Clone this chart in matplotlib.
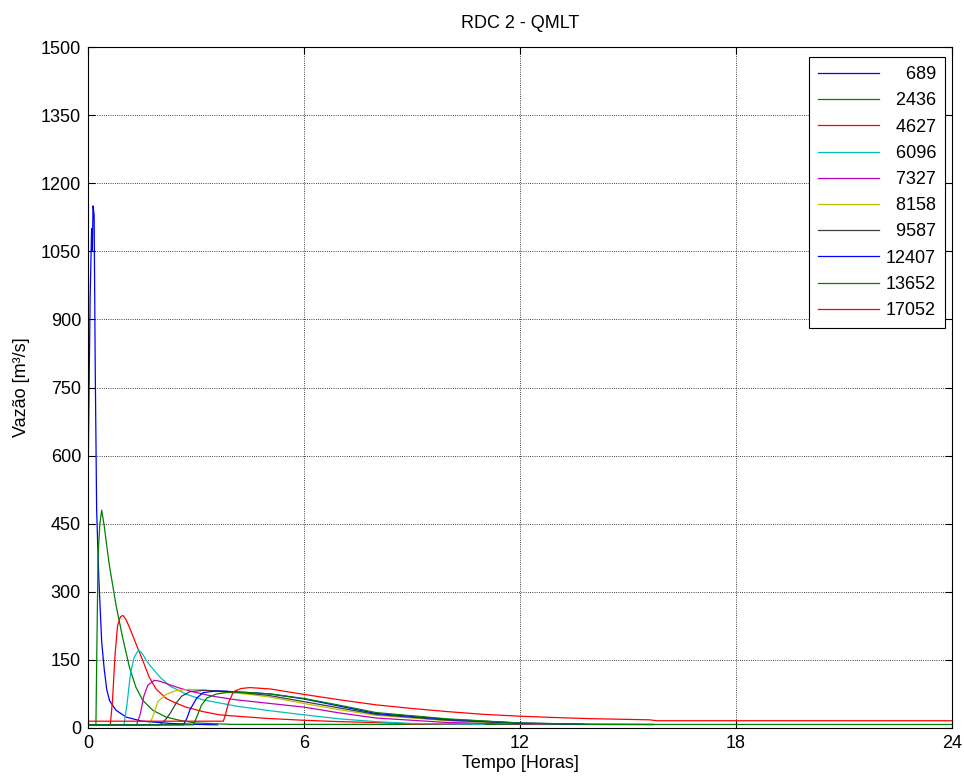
import numpy as np
import matplotlib
matplotlib.use('Agg')
import matplotlib.pyplot as plt

plt.rcParams['font.family'] = ['Liberation Sans', 'DejaVu Sans']

# Hydrographs (time in hours, flow in m3/s)
labels = ['689', '2436', '4627', '6096', '7327', '8158', '9587', '12407', '13652', '17052']

t_689 = [0, 0.01, 0.03, 0.06, 0.1, 0.12, 0.14, 0.17, 0.2, 0.24, 0.3, 0.38, 0.45, 0.52, 0.6, 0.78, 1.06, 1.5, 2.3, 3.0, 3.6]
q_689 = [5, 600, 750, 950, 1100, 1050, 1150, 1130, 800, 480, 330, 190, 130, 85, 60, 39, 24, 15, 10, 8, 7]

t_2436 = [0, 0.22, 0.25, 0.28, 0.33, 0.38, 0.45, 0.59, 0.78, 0.96, 1.15, 1.33, 1.52, 1.8, 2.17, 2.54, 3.0, 4.0, 24]
q_2436 = [7, 7, 200, 380, 450, 480, 445, 360, 270, 200, 134, 90, 61, 39, 24, 17, 11, 8, 7.7]

t_4627 = [0, 0.62, 0.68, 0.75, 0.82, 0.9, 0.97, 1.05, 1.15, 1.33, 1.52, 1.7, 1.89, 2.17, 2.44, 2.72, 3.2, 3.65, 4.13, 5, 6, 7, 8, 9, 11]
q_4627 = [7, 7, 60, 160, 225, 245, 248, 240, 222, 186, 149, 112, 86, 65, 55, 46, 36, 29, 26, 21, 17, 14, 12, 9, 8]

t_6096 = [0, 1.0, 1.08, 1.18, 1.28, 1.4, 1.5, 1.61, 1.72, 2.0, 2.28, 2.74, 3.2, 4.13, 5.06, 6, 7, 8, 9, 11]
q_6096 = [7, 7, 50, 120, 155, 172, 165, 150, 138, 112, 92, 74, 62, 48, 38, 29, 20, 14, 10, 8]

t_7327 = [0, 1.35, 1.45, 1.55, 1.66, 1.84, 2.0, 2.17, 2.54, 2.9, 3.46, 4.13, 5.06, 6, 7, 8, 10, 12.6]
q_7327 = [7, 7, 30, 70, 94, 105, 103, 98, 88, 80, 70, 62, 54, 46, 33, 22, 12, 8]

t_8158 = [0, 1.7, 1.8, 1.94, 2.17, 2.44, 2.8, 3.2, 3.67, 4.5, 5.06, 6, 7, 8, 10, 12, 13.75]
q_8158 = [7, 7, 25, 58, 74, 82, 85, 84, 80, 74, 68, 54, 40, 28, 16, 10, 8]

t_9587 = [0, 2.0, 2.15, 2.28, 2.45, 2.6, 2.83, 3.2, 3.6, 4.13, 5, 6, 7, 8, 10, 12, 13.75]
q_9587 = [7, 7, 18, 32, 55, 70, 80, 83, 82, 79, 72, 58, 44, 30, 17, 10, 8]

t_12407 = [0, 2.65, 2.75, 2.83, 3.02, 3.2, 3.5, 3.8, 4.5, 5.06, 6, 7, 8, 10, 12, 14, 15.7]
q_12407 = [7, 7, 22, 40, 66, 78, 81, 81, 78, 75, 64, 48, 32, 19, 11, 8, 7.7]

t_13652 = [0, 2.93, 3.05, 3.15, 3.3, 3.57, 3.94, 4.5, 5.06, 6, 7, 8, 10, 12, 14, 15.7]
q_13652 = [7, 7, 30, 50, 66, 75, 79, 78, 75, 65, 50, 34, 20, 11, 8, 7.7]

t_17052 = [0, 3.76, 3.82, 3.9, 4.04, 4.25, 4.5, 5.06, 6, 7, 8, 9, 10, 11, 12, 13, 14, 15.6, 15.8, 24]
q_17052 = [15, 15, 30, 55, 80, 87, 89, 86, 74, 62, 51, 43, 36, 30, 26, 23, 20.5, 18, 16, 16]

times = [t_689, t_2436, t_4627, t_6096, t_7327, t_8158, t_9587, t_12407, t_13652, t_17052]
flows = [q_689, q_2436, q_4627, q_6096, q_7327, q_8158, q_9587, q_12407, q_13652, q_17052]

# MATLAB style line order
colors = [(0, 0, 1), (0, 0.5, 0), (1, 0, 0), (0, 0.75, 0.75), (0.75, 0, 0.75),
          (0.75, 0.75, 0), (0.25, 0.25, 0.25)]

fig = plt.figure(figsize=(9.64, 7.8), dpi=100)
ax = fig.add_axes([88 / 964, 1 - 728 / 780, (952 - 88) / 964, (728 - 47) / 780])

# pad labels like num2str does so the digits line up on the right
width = max(len(s) for s in labels)
for i, (t, q) in enumerate(zip(times, flows)):
    lab = ' ' * 2 * (width - len(labels[i])) + labels[i]
    ax.plot(t, q, color=colors[i % len(colors)], lw=0.9, label=lab)

ax.set_xlim(0, 24)
ax.set_ylim(0, 1500)
ax.set_xticks(np.arange(0, 25, 6))
ax.set_yticks(np.arange(0, 1501, 150))
ax.grid(True, color='black', linestyle=':', linewidth=0.6)
ax.tick_params(direction='in', top=True, right=True, labelsize=13, length=5, pad=5)
for s in ax.spines.values():
    s.set_linewidth(0.8)

ax.set_title('RDC 2 - QMLT', fontsize=13, pad=14)
ax.set_xlabel('Tempo [Horas]', fontsize=13, labelpad=2)
ax.set_ylabel('Vazão [m³/s]', fontsize=13, labelpad=8)

leg = ax.legend(loc='upper right', bbox_to_anchor=(0.992, 0.985), borderaxespad=0,
                fontsize=13, fancybox=False, framealpha=1, edgecolor='black',
                handlelength=3.4, labelspacing=0.51, borderpad=0.5,
                handletextpad=0.35)
leg.get_frame().set_linewidth(0.8)

plt.savefig('out.png', dpi=100)
